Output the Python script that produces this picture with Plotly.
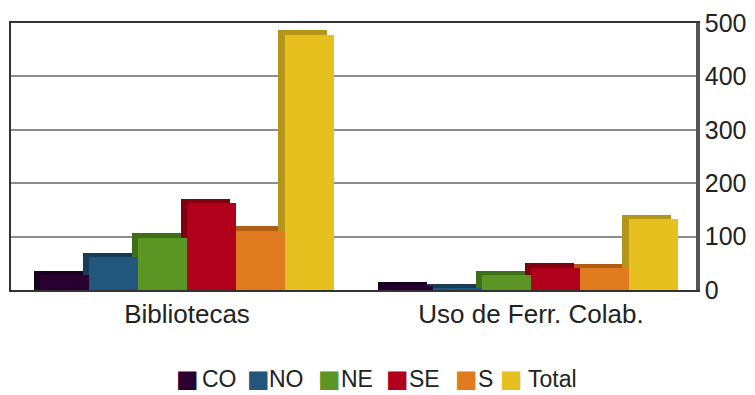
import plotly.graph_objects as go

# Categories and per-region counts
categories = ["Bibliotecas", "Uso de Ferr. Colab."]
series_names = ["CO", "NO", "NE", "SE", "S", "Total"]
co_values = [28, 7]
no_values = [61, 3]
ne_values = [98, 28]
se_values = [163, 42]
s_values = [111, 41]
total_values = [478, 133]
y_ticks = [0, 100, 200, 300, 400, 500]

series_values = [co_values, no_values, ne_values, se_values, s_values, total_values]
face_colors = ["#2a0030", "#23567c", "#5b9624", "#b0001c", "#e07b1f", "#e6c01f"]
side_colors = ["#1a0020", "#173c58", "#3f6e18", "#80000f", "#b05c12", "#b3951a"]

BAR_W = 0.142    # width of each bar in category units
DEPTH_X = 0.018  # horizontal shift of the bevel face
DEPTH_Y = 8      # vertical extent of the bevel face (value units)
FONT = "Liberation Sans, Arial, sans-serif"

W, H = 755, 395
M_L, M_R, M_T, M_B = 9, 55, 20, 105
PLOT_W = W - M_L - M_R
PLOT_H = H - M_T - M_B

fig = go.Figure()
n = len(series_names)

# Bevel faces behind the bars give the pseudo-3D look
for i, (vals, col) in enumerate(zip(series_values, side_colors)):
    off = -n / 2 * BAR_W + i * BAR_W
    fig.add_trace(go.Bar(
        x=categories, y=[v + DEPTH_Y for v in vals],
        offset=off - DEPTH_X, width=BAR_W,
        marker=dict(color=col, line=dict(width=0)),
        showlegend=False, hoverinfo="skip",
    ))

# Front faces carry the actual values
for i, (name, vals, col) in enumerate(zip(series_names, series_values, face_colors)):
    off = -n / 2 * BAR_W + i * BAR_W
    fig.add_trace(go.Bar(
        x=categories, y=vals, name=name,
        offset=off, width=BAR_W,
        marker=dict(color=col, line=dict(width=0)),
        showlegend=False,
    ))

# Legend row: a swatch and a label per series (pixel positions along the row)
swatch_px = [186.5, 257.5, 329.5, 397.5, 467.5, 512.5]
label_px = [199, 266, 339, 407, 477, 527]
legend_y = -(380 - (H - M_B)) / PLOT_H
for name, col, sx, tx in zip(series_names, face_colors, swatch_px, label_px):
    fig.add_annotation(
        text="■", xref="paper", yref="paper",
        x=(sx - M_L) / PLOT_W, y=legend_y,
        xanchor="center", yanchor="middle", showarrow=False,
        font=dict(family="DejaVu Sans", size=24, color=col),
    )
    fig.add_annotation(
        text=name, xref="paper", yref="paper",
        x=(tx - M_L) / PLOT_W, y=legend_y,
        xanchor="left", yanchor="middle", showarrow=False,
        font=dict(family=FONT, size=23, color="#222"),
    )

# Thick right-hand wall edge
fig.add_shape(type="line", xref="paper", yref="paper",
              x0=1, x1=1, y0=0, y1=1,
              line=dict(color="#555", width=4))

fig.update_layout(
    width=W, height=H,
    margin=dict(l=M_L, r=M_R, t=M_T, b=M_B),
    barmode="overlay",
    bargap=0,
    plot_bgcolor="white", paper_bgcolor="white",
    font=dict(family=FONT, size=24, color="#222"),
    xaxis=dict(
        range=[-0.5116, 1.4855],
        showline=True, linecolor="#333", linewidth=1.5, mirror=True,
        showgrid=False, ticks="", tickfont=dict(size=26, color="#222"),
    ),
    yaxis=dict(
        range=[0, 500], side="right",
        tickvals=y_ticks, ticktext=[str(t) for t in y_ticks],
        showline=True, linecolor="#333", linewidth=1.5, mirror=True,
        showgrid=True, gridcolor="#8c8c8c", gridwidth=1.5,
        ticks="", zeroline=False, tickfont=dict(size=25, color="#222"),
    ),
)

fig.write_html("out.html")
